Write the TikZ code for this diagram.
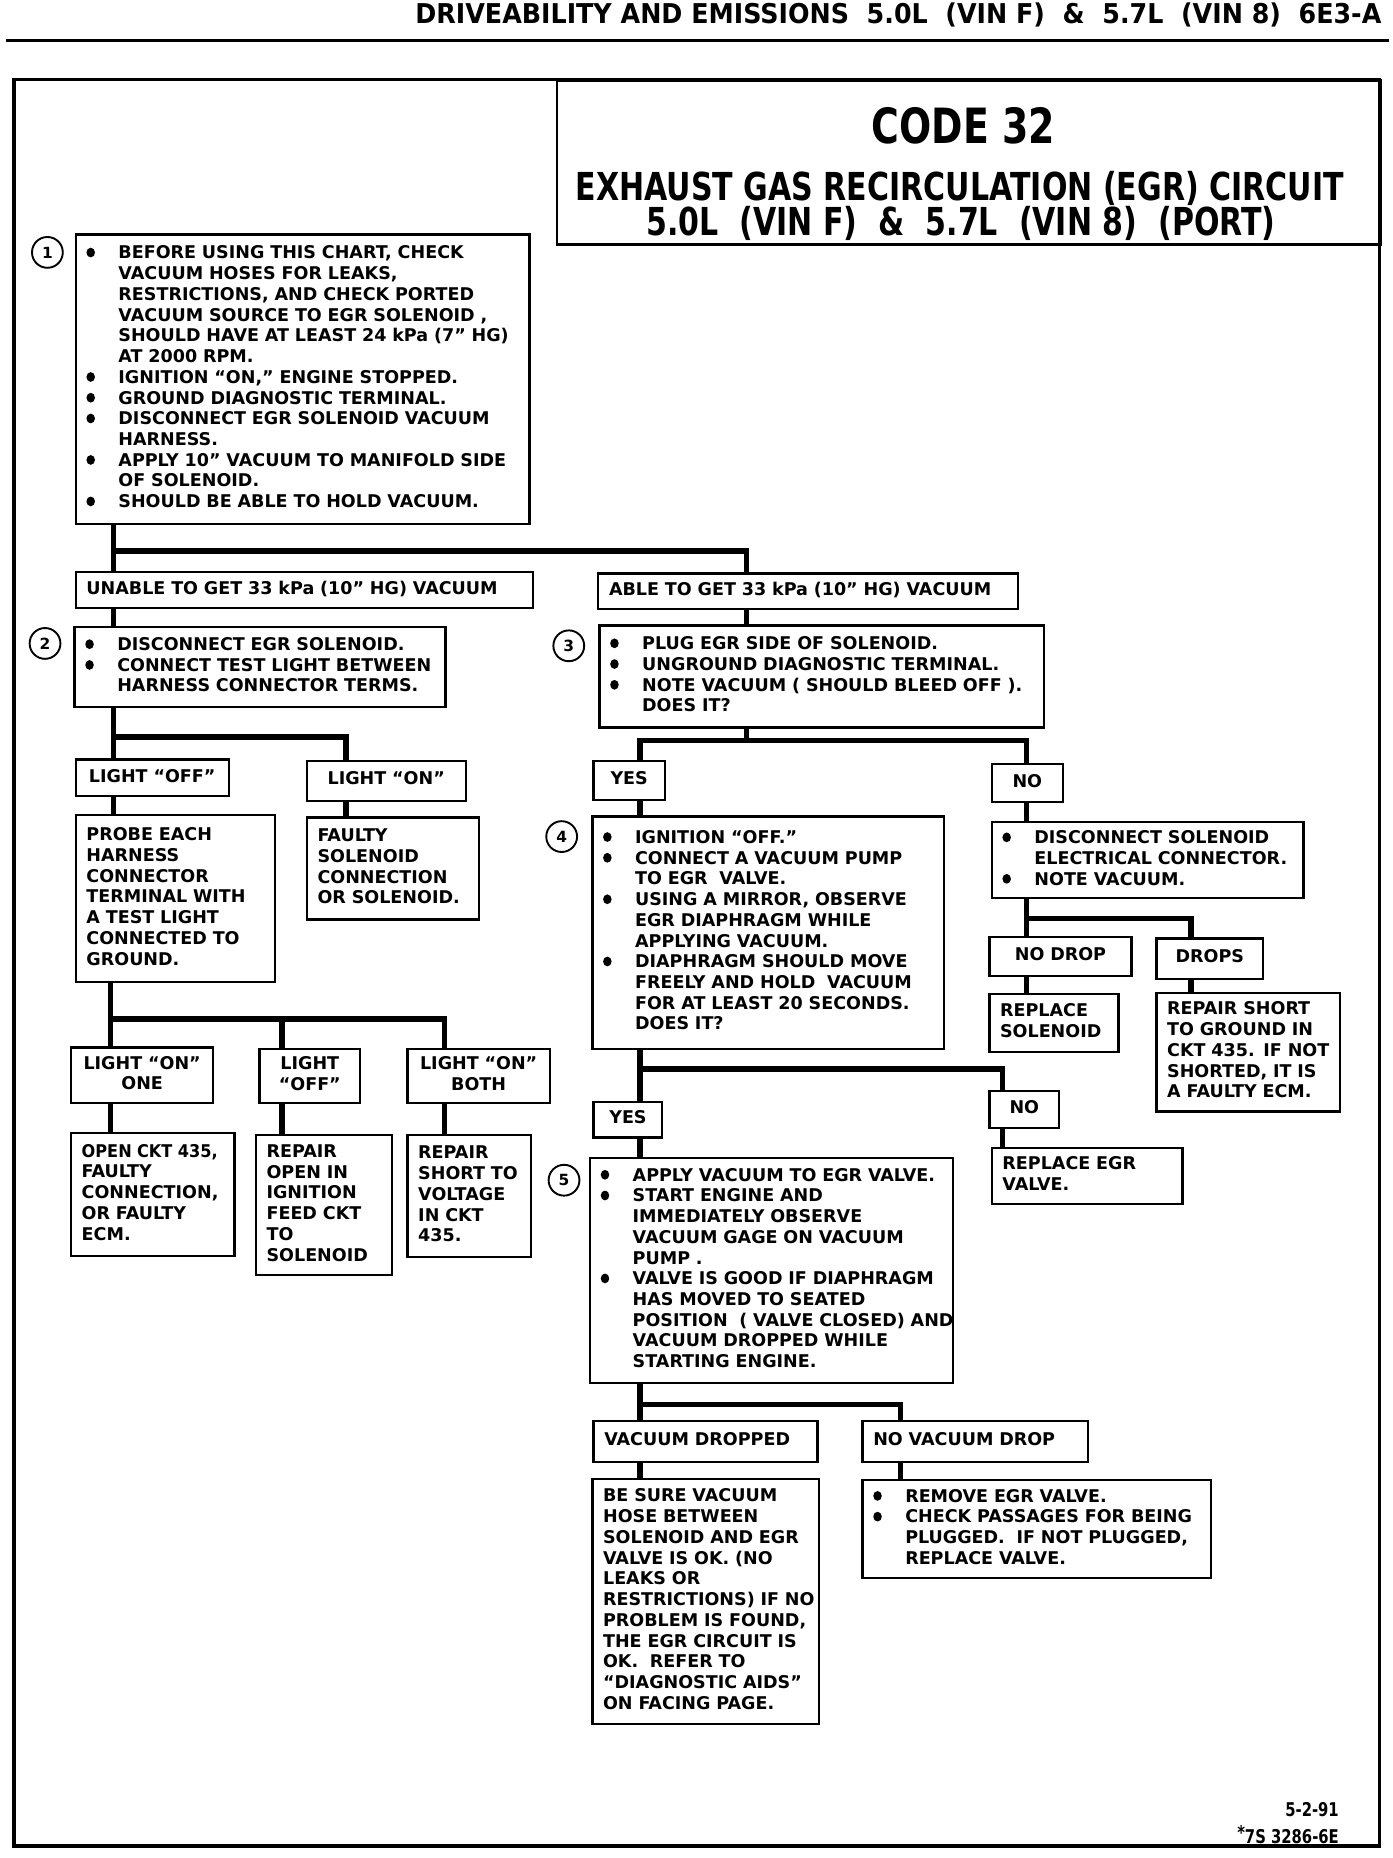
\documentclass[tikz,border=0pt]{standalone}
\usepackage{fontspec}
\usepackage{graphicx}
\setmainfont{DejaVu Sans}[WordSpace=0.7]
\newfontfamily\tfont{DejaVu Sans}[FakeStretch=0.78]
\newfontfamily\hfont{DejaVu Sans}[FakeStretch=0.93]
\newcommand\bdot{\raisebox{1.2pt}{\tikz\fill[black] (0,0) circle[x radius=3.6pt, y radius=4.1pt];}}
\newcommand\bul{\makebox[27pt][l]{\bdot}}
\newcommand\ind{\hspace*{27pt}}
\newcommand\bx[7][box]{\pgfmathsetlengthmacro\tw{#5-18}\node[#1, minimum width=#5, minimum height=#6, text width=\tw] (#2) at (#3,#4) {\begin{tabular}{@{}l@{}}#7\end{tabular}};}
\newcommand\cbx[6]{\pgfmathsetlengthmacro\tw{#4-18}\node[box, align=center, minimum width=#4, minimum height=#5, text width=\tw] (#1) at (#2,#3) {\begin{tabular}{@{}c@{}}#6\end{tabular}};}
\tikzset{
  box/.style={draw, line width=1.9pt, anchor=north west, inner xsep=9pt, inner ysep=1pt, align=left,
    font=\fontsize{14.8}{17.5}\selectfont\bfseries},
  conn/.style={line width=4.5pt},
  circ/.style={draw, circle, line width=1.6pt, minimum size=26pt, inner sep=0pt,
    font=\fontsize{13}{13}\selectfont\bfseries},
  ttl/.style={inner sep=0pt, anchor=base},
}
\begin{document}
\begin{tikzpicture}[x=1pt,y=-1pt]
\useasboundingbox (0,0) rectangle (1175,1568);
\fill[white] (0,0) rectangle (1175,1568);
% header
\node[inner sep=0pt, anchor=base east, font=\hfont\bfseries\fontsize{23}{23}\selectfont] (hdr) at (1166,20)
  {DRIVEABILITY AND EMISSIONS\ \ 5.0L\ \ (VIN F)\ \ \&\ \ 5.7L\ \ (VIN 8)\ \ 6E3-A};
\draw[line width=2.5pt] (5,34) -- (1172,34);
% frame
\draw[line width=3pt] (12,67) rectangle (1164,1558);
\node[draw, line width=2.2pt, anchor=north west, minimum width=695, minimum height=138, inner sep=0pt] (tbox) at (469,67) {};
\node[ttl, font=\tfont\bfseries\fontsize{41}{41}\selectfont] (tcode) at (813,121) {CODE 32};
\node[ttl, font=\tfont\bfseries\fontsize{32.5}{32.5}\selectfont] (tl2) at (810,169) {EXHAUST GAS RECIRCULATION (EGR) CIRCUIT};
\node[ttl, font=\tfont\bfseries\fontsize{32.5}{32.5}\selectfont] (tl3) at (811,199) {5.0L\ \ (VIN F)\ \ \&\ \ 5.7L\ \ (VIN 8)\ \ (PORT)};
% circles
\node[circ] (n1) at (40,213) {1};
\node[circ] (n2) at (38,543) {2};
\node[circ] (n3) at (480,545) {3};
\node[circ] (n4) at (474,706) {4};
\node[circ] (n5) at (476,996) {5};
% boxes
\bx{b1}{63}{197}{383}{244}{\bul BEFORE USING THIS CHART, CHECK\\
\ind VACUUM HOSES FOR LEAKS,\\
\ind RESTRICTIONS, AND CHECK PORTED\\
\ind VACUUM SOURCE TO EGR SOLENOID ,\\
\ind SHOULD HAVE AT LEAST 24 kPa (7” HG)\\
\ind AT 2000 RPM.\\
\bul IGNITION “ON,” ENGINE STOPPED.\\
\bul GROUND DIAGNOSTIC TERMINAL.\\
\bul DISCONNECT EGR SOLENOID VACUUM\\
\ind HARNESS.\\
\bul APPLY 10” VACUUM TO MANIFOLD SIDE\\
\ind OF SOLENOID.\\
\bul SHOULD BE ABLE TO HOLD VACUUM.}
\bx{unable}{63}{482}{386}{30}{UNABLE TO GET 33 kPa (10” HG) VACUUM}
\bx{able}{504}{483}{354}{30}{ABLE TO GET 33 kPa (10” HG) VACUUM}
\bx{b2}{62}{528}{313}{68}{\bul DISCONNECT EGR SOLENOID.\\
\bul CONNECT TEST LIGHT BETWEEN\\
\ind HARNESS CONNECTOR TERMS.}
\bx{b3}{505}{527}{375}{86}{\bul PLUG EGR SIDE OF SOLENOID.\\
\bul UNGROUND DIAGNOSTIC TERMINAL.\\
\bul NOTE VACUUM ( SHOULD BLEED OFF ).\\
\ind DOES IT?}
\cbx{loff}{63}{640}{129}{31}{LIGHT “OFF”}
\cbx{lon}{258}{641}{134}{34}{LIGHT “ON”}
\bx{probe}{63}{687}{168}{141}{PROBE EACH\\HARNESS\\CONNECTOR\\TERMINAL WITH\\A TEST LIGHT\\CONNECTED TO\\GROUND.}
\bx{faulty}{258}{689}{145}{86}{FAULTY\\SOLENOID\\CONNECTION\\OR SOLENOID.}
\cbx{lone}{59}{883}{120}{47}{LIGHT “ON”\\ONE}
\cbx{loff2}{218}{884}{85}{46}{LIGHT\\“OFF”}
\cbx{lboth}{343}{884}{120}{46}{LIGHT “ON”\\BOTH}
\bx{openckt}{59}{955}{138}{104}{\scalebox{0.92}[1]{OPEN CKT 435,}\\FAULTY\\CONNECTION,\\OR FAULTY\\ECM.}
\bx{repopen}{215}{957}{115}{118}{REPAIR\\OPEN IN\\IGNITION\\FEED CKT\\TO\\SOLENOID}
\bx{repvolt}{343}{957}{104}{103}{REPAIR\\SHORT TO\\VOLTAGE\\IN CKT\\435.}
\cbx{yes1}{500}{641}{60}{33}{YES}
\cbx{no1}{836}{644}{60}{32}{NO}
\bx{b4}{499}{688}{297}{196}{\bul IGNITION “OFF.”\\
\bul CONNECT A VACUUM PUMP\\
\ind TO EGR\ \ VALVE.\\
\bul USING A MIRROR, OBSERVE\\
\ind EGR DIAPHRAGM WHILE\\
\ind APPLYING VACUUM.\\
\bul DIAPHRAGM SHOULD MOVE\\
\ind FREELY AND HOLD\ \ VACUUM\\
\ind FOR AT LEAST 20 SECONDS.\\
\ind DOES IT?}
\bx{disc}{836}{693}{263}{64}{\bul DISCONNECT SOLENOID\\
\ind ELECTRICAL CONNECTOR.\\
\bul NOTE VACUUM.}
\cbx{nodrop}{834}{790}{120}{33}{NO DROP}
\cbx{drops}{975}{791}{90}{34}{DROPS}
\bx{repsol}{834}{838}{109}{49}{REPLACE\\SOLENOID}
\bx{repgnd}{975}{837}{155}{100}{REPAIR SHORT\\TO GROUND IN\\CKT 435. IF NOT\\SHORTED, IT IS\\A FAULTY ECM.}
\cbx{yes2}{500}{929}{58}{30}{YES}
\cbx{no2}{834}{920}{59}{31}{NO}
\bx{regr}{836}{968}{161}{47}{REPLACE EGR\\VALVE.}
\bx{b5}{497}{976}{306}{190}{\bul APPLY VACUUM TO EGR VALVE.\\
\bul START ENGINE AND\\
\ind IMMEDIATELY OBSERVE\\
\ind VACUUM GAGE ON VACUUM\\
\ind PUMP .\\
\bul VALVE IS GOOD IF DIAPHRAGM\\
\ind HAS MOVED TO SEATED\\
\ind POSITION\ \ ( VALVE CLOSED) AND\\
\ind VACUUM DROPPED WHILE\\
\ind STARTING ENGINE.}
\bx{vd}{500}{1198}{189}{35}{VACUUM DROPPED}
\bx{nvd}{727}{1198}{190}{35}{NO VACUUM DROP}
\bx{besure}{499}{1247}{191}{207}{BE SURE VACUUM\\HOSE BETWEEN\\SOLENOID AND EGR\\VALVE IS OK. (NO\\LEAKS OR\\RESTRICTIONS) IF NO\\PROBLEM IS FOUND,\\THE EGR CIRCUIT IS\\OK.\ \ REFER TO\\“DIAGNOSTIC AIDS”\\ON FACING PAGE.}
\bx{remove}{727}{1248}{294}{83}{\bul REMOVE EGR VALVE.\\
\bul CHECK PASSAGES FOR BEING\\
\ind PLUGGED.\ \ IF NOT PLUGGED,\\
\ind REPLACE VALVE.}
% footer
\node[inner sep=0pt, anchor=base east, font=\tfont\bfseries\fontsize{16}{16}\selectfont] (f1) at (1130,1533) {5-2-91};
\node[inner sep=0pt, anchor=base east, font=\tfont\bfseries\fontsize{16}{16}\selectfont] (f2) at (1130,1556) {\raisebox{4pt}{*}7S 3286-6E};
% connectors
\coordinate (k1) at (96,465); \coordinate (k1r) at (630,465);
\draw[conn] (b1.south -| k1) -- (unable.north -| k1);
\draw[conn] (k1) -- (k1r) -- (able.north -| k1r);
\draw[conn] (unable.south -| k1) -- (b2.north -| k1);
\draw[conn] (able.south -| k1r) -- (b3.north -| k1r);
\coordinate (k2) at (96,622); \coordinate (k2r) at (292,622);
\draw[conn] (b2.south -| k2) -- (loff.north -| k2);
\draw[conn] (k2) -- (k2r) -- (lon.north -| k2r);
\draw[conn] (loff.south -| k2) -- (probe.north -| k2);
\draw[conn] (lon.south -| k2r) -- (faulty.north -| k2r);
\coordinate (k3) at (93,860); \coordinate (k3m) at (238,860); \coordinate (k3r) at (375,860);
\draw[conn] (probe.south -| k3) -- (lone.north -| k3);
\draw[conn] (k3) -- (k3r) -- (lboth.north -| k3r);
\draw[conn] (k3m) -- (loff2.north -| k3m);
\draw[conn] (lone.south -| k3) -- (openckt.north -| k3);
\draw[conn] (loff2.south -| k3m) -- (repopen.north -| k3m);
\draw[conn] (lboth.south -| k3r) -- (repvolt.north -| k3r);
\coordinate (k4) at (630,625); \coordinate (k4l) at (540,625); \coordinate (k4r) at (866,625);
\draw[conn] (b3.south -| k4) -- (k4);
\draw[conn] (yes1.north -| k4l) |- (k4r) -- (no1.north -| k4r);
\draw[conn] (yes1.south -| k4l) -- (b4.north -| k4l);
\draw[conn] (no1.south -| k4r) -- (disc.north -| k4r);
\coordinate (k5) at (866,775); \coordinate (k5r) at (1005,775);
\draw[conn] (disc.south -| k5) -- (nodrop.north -| k5);
\draw[conn] (k5) -- (k5r) -- (drops.north -| k5r);
\draw[conn] (nodrop.south -| k5) -- (repsol.north -| k5);
\draw[conn] (drops.south -| k5r) -- (repgnd.north -| k5r);
\coordinate (k6) at (540,902); \coordinate (k6r) at (846,902);
\draw[conn] (b4.south -| k6) -- (yes2.north -| k6);
\draw[conn] (k6) -- (k6r) -- (no2.north -| k6r);
\draw[conn] (yes2.south -| k6) -- (b5.north -| k6);
\draw[conn] (no2.south -| k6r) -- (regr.north -| k6r);
\coordinate (k7) at (540,1185); \coordinate (k7r) at (760,1185);
\draw[conn] (b5.south -| k7) -- (vd.north -| k7);
\draw[conn] (k7) -- (k7r) -- (nvd.north -| k7r);
\draw[conn] (vd.south -| k7) -- (besure.north -| k7);
\draw[conn] (nvd.south -| k7r) -- (remove.north -| k7r);
\end{tikzpicture}
\end{document}
